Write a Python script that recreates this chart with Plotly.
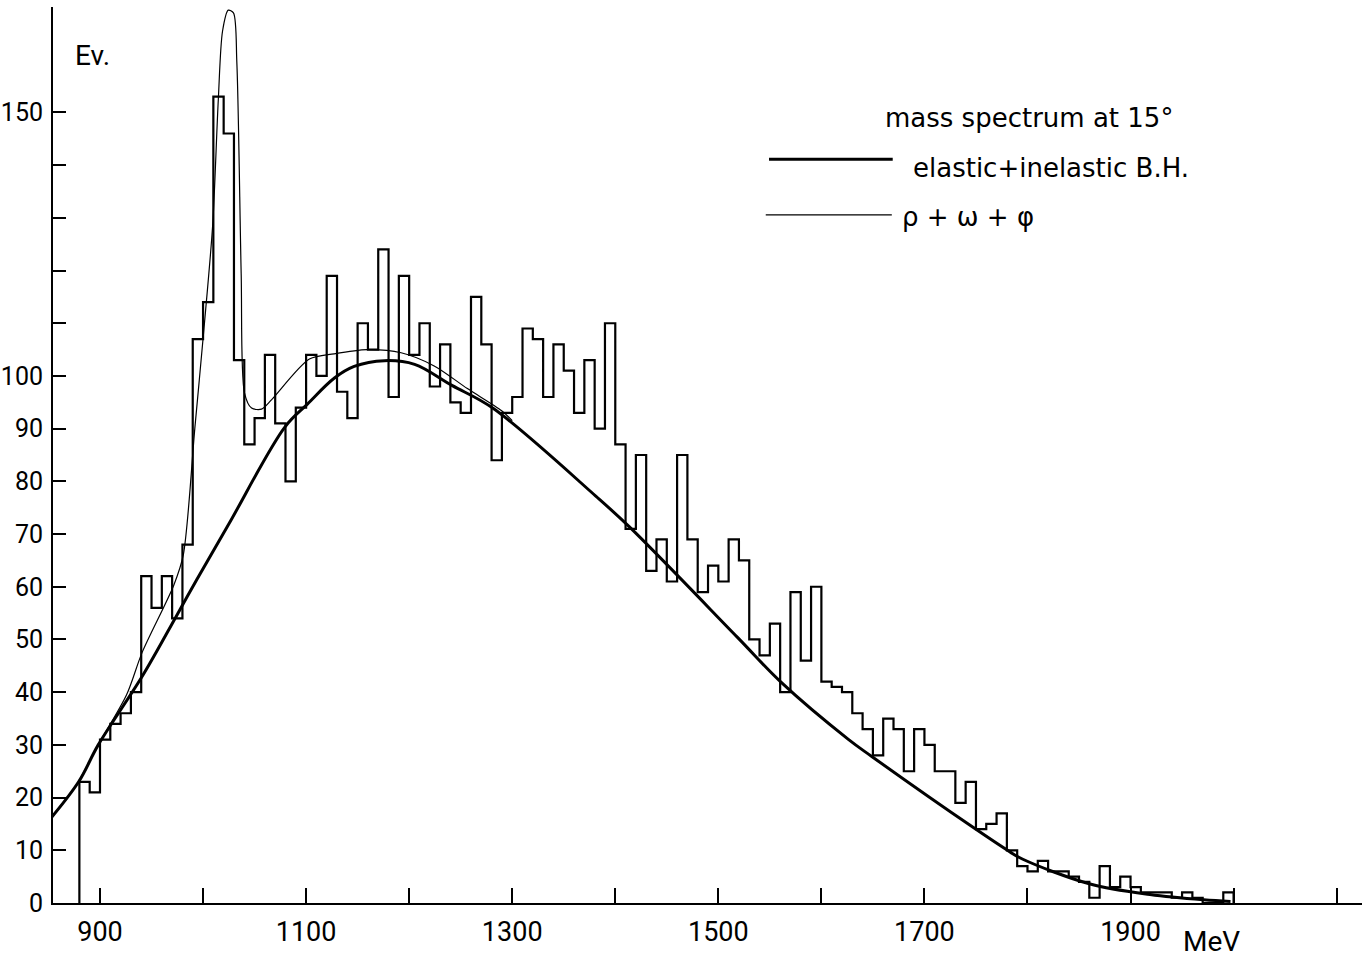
import plotly.graph_objects as go

# ---------------- data ----------------
bin_start = 880          # MeV, lower edge of first bin
bin_width = 10           # MeV
counts = [
    23, 21, 31, 34, 36, 40, 62, 56, 62, 54,          # 880-970
    68, 107, 114, 153, 146, 103, 87, 92, 104, 91,    # 980-1070
    80, 94, 104, 100, 119, 97, 92, 110, 105, 124,    # 1080-1170
    96, 119, 104, 110, 98, 106, 95, 93, 115, 106,    # 1180-1270
    84, 93, 96, 109, 107, 96, 106, 101, 93, 103,     # 1280-1370
    90, 110, 87, 71, 85, 63, 69, 61, 85, 69,         # 1380-1470
    59, 64, 61, 69, 65, 50, 47, 53, 40, 59,          # 1480-1570
    46, 60, 42, 41, 40, 36, 33, 28, 35, 33,          # 1580-1670
    25, 33, 30, 25, 25, 19, 23, 14, 15, 17,          # 1680-1770
    10, 7, 6, 8, 6, 6, 5, 4, 1, 7,                   # 1780-1870
    3, 5, 3, 2, 2, 2, 1, 2, 1, 0,                    # 1880-1970
    0, 2,                                            # 1980-1990
]

# elastic + inelastic Bethe-Heitler curve (thick)
bh_mass = [848.6, 879.3, 898.3, 941.3, 974.6, 993.7, 1025.0, 1079.4, 1101.5,
           1127.5, 1146.6, 1176.0, 1205.3, 1241.5, 1281.1, 1381.1, 1413.5,
           1518.6, 1560.8, 1626.5, 1648.9, 1746.8, 1783.0, 1795.5, 1860.8,
           1918.9, 1971.0, 1997.0]
bh_events = [15.2, 23.0, 30.0, 43.1, 54.6, 61.3, 71.9, 90.3, 94.7,
             99.6, 101.8, 102.9, 102.2, 98.2, 93.9, 77.2, 71.4,
             50.4, 41.9, 31.0, 27.8, 14.4, 9.7, 8.3, 3.6,
             1.6, 0.6, 0.3]

# B.H. + rho + omega + phi curve (thin)
res_mass = [879.3, 898.3, 925.8, 941.0, 971.6, 980.8, 992.0, 1000.9, 1009.3,
            1014.8, 1018.9, 1024.5, 1029.5, 1032.8, 1037.0, 1040.2, 1047.1,
            1056.7, 1066.6, 1103.2, 1127.2, 1159.1, 1192.2, 1224.3, 1256.5,
            1289.8, 1300.0]
res_events = [23.0, 30.0, 39.5, 47.6, 60.3, 66.0, 90.0, 109.0, 128.5,
              152.4, 165.4, 169.4, 168.9, 159.4, 119.4, 96.8, 93.9,
              93.7, 95.5, 103.2, 104.2, 105.0, 104.4, 101.9, 97.6,
              93.4, 91.5]

x_tick_vals = [900, 1000, 1100, 1200, 1300, 1400, 1500, 1600, 1700, 1800, 1900, 2000, 2100]
x_tick_text = ["900", "", "1100", "", "1300", "", "1500", "", "1700", "", "1900", "", ""]
y_tick_vals = [0, 10, 20, 30, 40, 50, 60, 70, 80, 90, 100, 110, 120, 130, 140, 150]
y_tick_text = ["0", "10", "20", "30", "40", "50", "60", "70", "80", "90", "100",
               "", "", "", "", "150"]

# ---------------- build histogram outline ----------------
edges = [bin_start + bin_width * i for i in range(len(counts) + 1)]
hist_x = [edges[0]] + edges + [edges[-1]]
hist_y = [0] + counts + [counts[-1], 0]

TICK_FONT = "Roboto, Liberation Sans, DejaVu Sans, sans-serif"
TEXT_FONT = "DejaVu Sans, Liberation Sans, sans-serif"

fig = go.Figure()
fig.add_trace(go.Scatter(x=hist_x, y=hist_y, mode="lines",
                         line=dict(color="black", width=2.2, shape="hv"),
                         hoverinfo="skip"))
fig.add_trace(go.Scatter(x=res_mass, y=res_events, mode="lines",
                         line=dict(color="black", width=1.2, shape="spline", smoothing=0.8),
                         hoverinfo="skip"))
fig.add_trace(go.Scatter(x=bh_mass, y=bh_events, mode="lines",
                         line=dict(color="black", width=3, shape="spline", smoothing=1.0),
                         hoverinfo="skip"))

fig.update_layout(
    width=1372, height=962,
    margin=dict(l=53, r=10, t=7, b=59),
    paper_bgcolor="white", plot_bgcolor="white",
    showlegend=False,
    xaxis=dict(range=[854.4, 2124.6], showline=True, linecolor="black", linewidth=2,
               ticks="inside", ticklen=15, tickwidth=1.5, tickcolor="black",
               tickvals=x_tick_vals, ticktext=x_tick_text,
               showgrid=False, zeroline=False, automargin=False,
               tickfont=dict(family=TICK_FONT, size=27, color="black"),
               ticklabelstandoff=4),
    yaxis=dict(range=[0, 170], showline=True, linecolor="black", linewidth=2,
               ticks="inside", ticklen=13, tickwidth=1.5, tickcolor="black",
               tickvals=y_tick_vals, ticktext=y_tick_text,
               showgrid=False, zeroline=False, automargin=False,
               tickfont=dict(family=TICK_FONT, size=25, color="black"),
               ticklabelstandoff=3),
)

ann = []
ann.append(dict(text="Ev.", xref="paper", yref="paper", x=0.0298, y=0.946,
                xanchor="center", yanchor="middle", showarrow=False,
                font=dict(family=TICK_FONT, size=28, color="black")))
ann.append(dict(text="MeV", xref="paper", yref="paper", x=0.8854, y=-0.0435,
                xanchor="center", yanchor="middle", showarrow=False,
                font=dict(family=TICK_FONT, size=28, color="black")))
ann.append(dict(text="mass spectrum at 15°", xref="paper", yref="paper", x=0.6341, y=0.8756,
                xanchor="left", yanchor="middle", showarrow=False,
                font=dict(family=TEXT_FONT, size=26, color="black")))
ann.append(dict(text="elastic+inelastic B.H.", xref="paper", yref="paper", x=0.6555, y=0.820,
                xanchor="left", yanchor="middle", showarrow=False,
                font=dict(family=TEXT_FONT, size=26, color="black")))
ann.append(dict(text="ρ + ω + φ", xref="paper", yref="paper", x=0.6470, y=0.7656,
                xanchor="left", yanchor="middle", showarrow=False,
                font=dict(family=TEXT_FONT, size=26, color="black")))
fig.update_layout(annotations=ann)

fig.add_shape(type="line", xref="paper", yref="paper", x0=0.5470, x1=0.6415, y0=0.830, y1=0.830,
              line=dict(color="black", width=3))
fig.add_shape(type="line", xref="paper", yref="paper", x0=0.5445, x1=0.6408, y0=0.7679, y1=0.7679,
              line=dict(color="black", width=1.2))

fig.write_html("out.html")
